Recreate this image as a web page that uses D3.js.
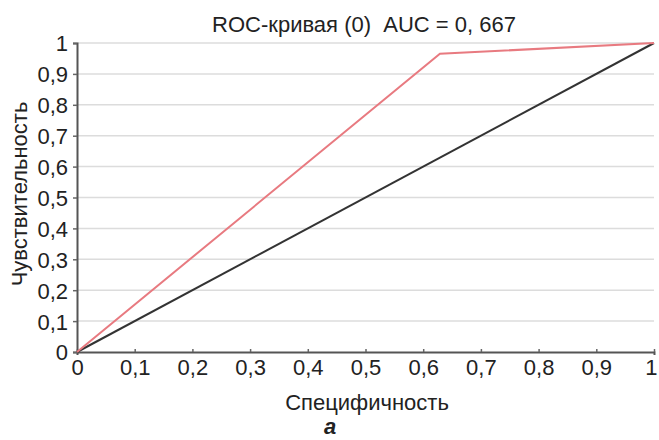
<!DOCTYPE html>
<html><head><meta charset="utf-8">
<script src="https://cdn.jsdelivr.net/npm/d3@7"></script>
<style>body{margin:0;background:#fff}svg{display:block;font-family:"Liberation Sans",Arial,sans-serif}</style>
</head><body>
<svg id="c" width="659" height="440"></svg>
<script>
const rocX = [0, 0.629, 1];
const rocY = [0, 0.965, 1];
const diagX = [0, 1];
const diagY = [0, 1];
const tickValues = [0,0.1,0.2,0.3,0.4,0.5,0.6,0.7,0.8,0.9,1];
const tickLabels = ["0","0,1","0,2","0,3","0,4","0,5","0,6","0,7","0,8","0,9","1"];
const title = "ROC-кривая (0)  AUC = 0, 667";
const xTitle = "Специфичность";
const yTitle = "Чувствительность";
const caption = "а";

const svg = d3.select("#c");
const m = {l:77, r:5, t:43, b:88};
const W = 659, H = 440;
const x = d3.scaleLinear().domain([0,1]).range([m.l, W-m.r]);
const y = d3.scaleLinear().domain([0,1]).range([H-m.b, m.t]);

// gridlines
svg.append("g").selectAll("line").data(tickValues.slice(1)).join("line")
  .attr("x1", x(0)).attr("x2", x(1)).attr("y1", d=>y(d)).attr("y2", d=>y(d))
  .attr("stroke", "#dcdcdc").attr("stroke-width", 1.5);

const fmt = d => tickLabels[tickValues.indexOf(d)];
const xa = svg.append("g").attr("transform", `translate(0,${y(0)})`)
  .call(d3.axisBottom(x).tickValues(tickValues).tickFormat(fmt).tickSize(3).tickPadding(3));
const ya = svg.append("g").attr("transform", `translate(${x(0)},0)`)
  .call(d3.axisLeft(y).tickValues(tickValues).tickFormat(fmt).tickSize(4).tickPadding(5));
[xa, ya].forEach(a => {
  a.attr("font-size", null).attr("font-family", null);
  a.selectAll("text").style("font-size", "22px").attr("fill", "#222");
  a.selectAll("line").attr("stroke", "#666").attr("stroke-width", 1.5);
  a.select(".domain").attr("stroke", "#555").attr("stroke-width", 2);
});
xa.selectAll(".tick line").attr("y2", -3);
xa.selectAll("text").attr("dy", "0.76em");
xa.selectAll("text").filter(d => d === 1).attr("text-anchor", "end").attr("x", 3);
ya.selectAll("text").attr("dy", "0.36em");

const line = d3.line().x(d=>x(d[0])).y(d=>y(d[1]));
svg.append("path").datum(diagX.map((v,i)=>[v, diagY[i]])).attr("d", line)
  .attr("fill","none").attr("stroke","#333").attr("stroke-width",2);
svg.append("path").datum(rocX.map((v,i)=>[v, rocY[i]])).attr("d", line)
  .attr("fill","none").attr("stroke","#e87a80").attr("stroke-width",2);

svg.append("text").attr("x", 364).attr("y", 32).attr("text-anchor","middle")
  .style("font-size", "22px").attr("fill","#222").style("white-space","pre").text(title);
svg.append("text").attr("x", 367).attr("y", 410).attr("text-anchor","middle")
  .style("font-size", "22px").attr("fill","#222").text(xTitle);
svg.append("text").attr("transform", "translate(27,194) rotate(-90)").attr("text-anchor","middle")
  .style("font-size", "22px").attr("fill","#222").text(yTitle);
svg.append("text").attr("x", 330).attr("y", 434).attr("text-anchor","middle")
  .style("font-size", "22px").attr("font-weight","bold").attr("font-style","italic").attr("fill","#222").text(caption);
</script>
</body></html>
